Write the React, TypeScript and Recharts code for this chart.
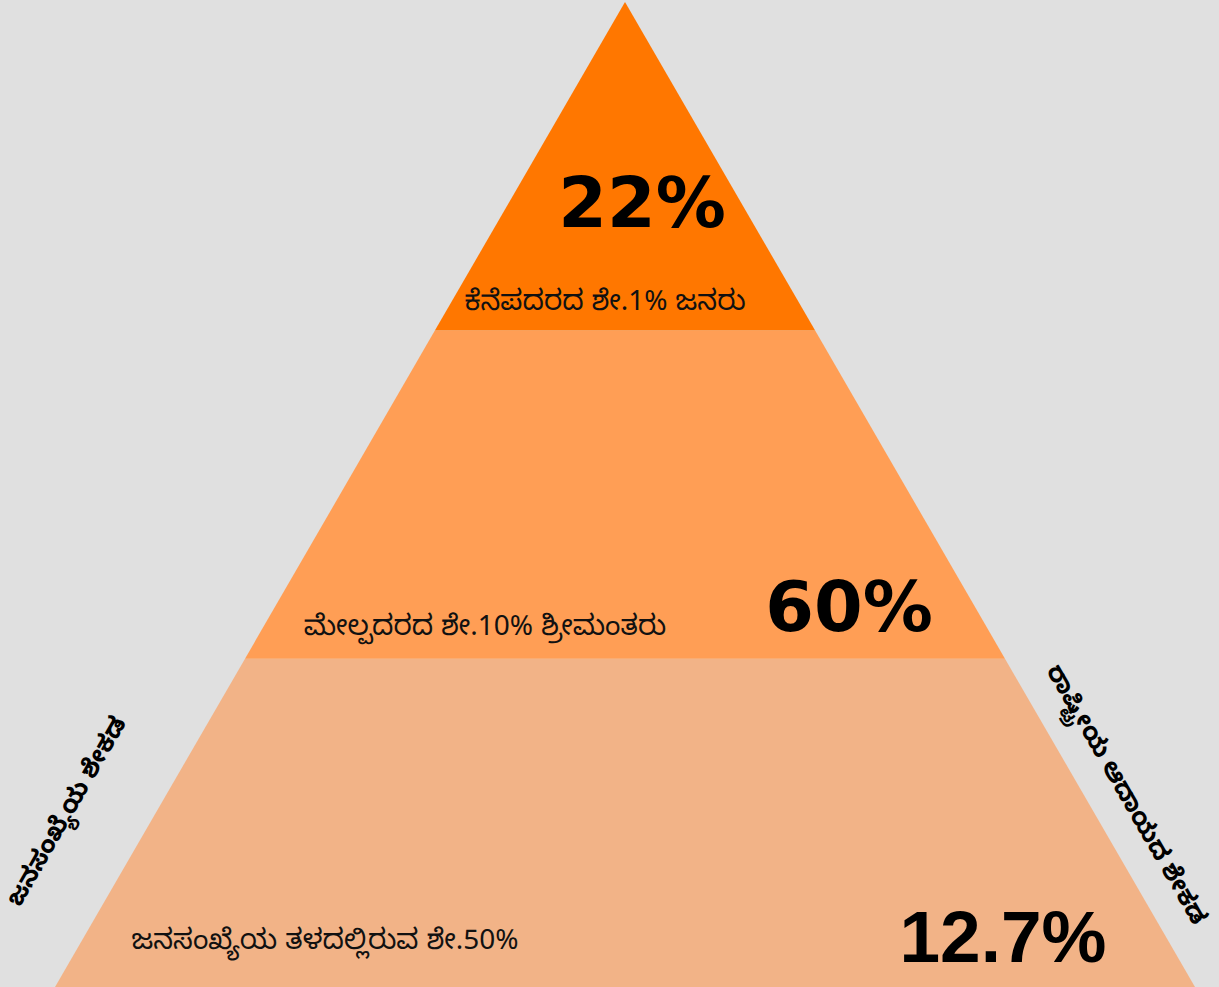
import { FunnelChart, Funnel } from "recharts";

// bottom -> top (Funnel is reversed so the first row sits at the base)
const groups = [
  "ಜನಸಂಖ್ಯೆಯ ತಳದಲ್ಲಿರುವ ಶೇ.50%",
  "ಮೇಲ್ಪದರದ ಶೇ.10% ಶ್ರೀಮಂತರು",
  "ಕೆನೆಪದರದ ಶೇ.1% ಜನರು",
];
const incomeShare = ["12.7%", "60%", "22%"];
const tierWidth = [3, 2, 1];

const leftAxisLabel = "ಜನಸಂಖ್ಯೆಯ ಶೇಕಡ";
const rightAxisLabel = "ರಾಷ್ಟ್ರೀಯ ಆದಾಯದ ಶೇಕಡ";

const COLORS = ["#F2B387", "#FF9E55", "#FF7700"];

// label offsets relative to the tier centre / top
const LAYOUT = [
  { nameDx: -300, nameDy: 290, valueDx: 378, valueDy: 303, valueFont: "'Liberation Sans', Arial, sans-serif" },
  { nameDx: -140, nameDy: 305, valueDx: 224, valueDy: 301, valueFont: "'DejaVu Sans', sans-serif" },
  { nameDx: -20, nameDy: 308, valueDx: 17, valueDy: 225, valueFont: "'DejaVu Sans', sans-serif" },
];

const W = 1219;
const H = 987;
const KN_FONT = "'Noto Sans Kannada', 'Noto Sans', sans-serif";

const data = groups.map((g, i) => ({
  name: g,
  share: incomeShare[i],
  width: tierWidth[i],
  fill: COLORS[i],
  idx: i,
}));

const TierShape = (props: any) => {
  const { x, y, upperWidth, lowerWidth, height, payload } = props;
  const p = payload?.payload ?? payload;
  const i = p.idx;
  const lay = LAYOUT[i];
  const cx = x + upperWidth / 2;
  const lx = cx - lowerWidth / 2;
  const d = `M${x},${y} L${x + upperWidth},${y} L${lx + lowerWidth},${y + height} L${lx},${y + height} Z`;
  return (
    <g>
      <path d={d} fill={p.fill} stroke="none" />
      <text
        x={cx + lay.nameDx}
        y={y + lay.nameDy}
        textAnchor="middle"
        fontSize={28}
        fontFamily={KN_FONT}
        fill="#111"
      >
        {p.name}
      </text>
      <text
        x={cx + lay.valueDx}
        y={y + lay.valueDy}
        textAnchor="middle"
        fontSize={i === 0 ? 73 : 70}
        fontWeight="bold"
        fontFamily={lay.valueFont}
        fill="#000"
      >
        {p.share}
      </text>
    </g>
  );
};

const sideLabel = (left: number, top: number, angle: number) => ({
  position: "absolute" as const,
  left,
  top,
  transform: `translate(-50%, -50%) rotate(${angle}deg)`,
  whiteSpace: "nowrap" as const,
  fontSize: 25,
  fontWeight: "bold" as const,
  fontFamily: KN_FONT,
  color: "#000",
  lineHeight: 1,
});

export default function App() {
  return (
    <div
      style={{
        position: "absolute",
        left: 0,
        top: 0,
        width: W,
        height: H,
        background: "#E0E0E0",
        overflow: "hidden",
      }}
    >
      <FunnelChart width={W} height={H} margin={{ top: 2, right: 24, bottom: 0, left: 55 }}>
        <Funnel
          data={data}
          dataKey="width"
          nameKey="name"
          lastShapeType="triangle"
          reversed
          isAnimationActive={false}
          shape={TierShape}
        />
      </FunnelChart>
      <div style={sideLabel(71, 814, -60)}>{leftAxisLabel}</div>
      <div style={sideLabel(1122, 797, 60)}>{rightAxisLabel}</div>
    </div>
  );
}
